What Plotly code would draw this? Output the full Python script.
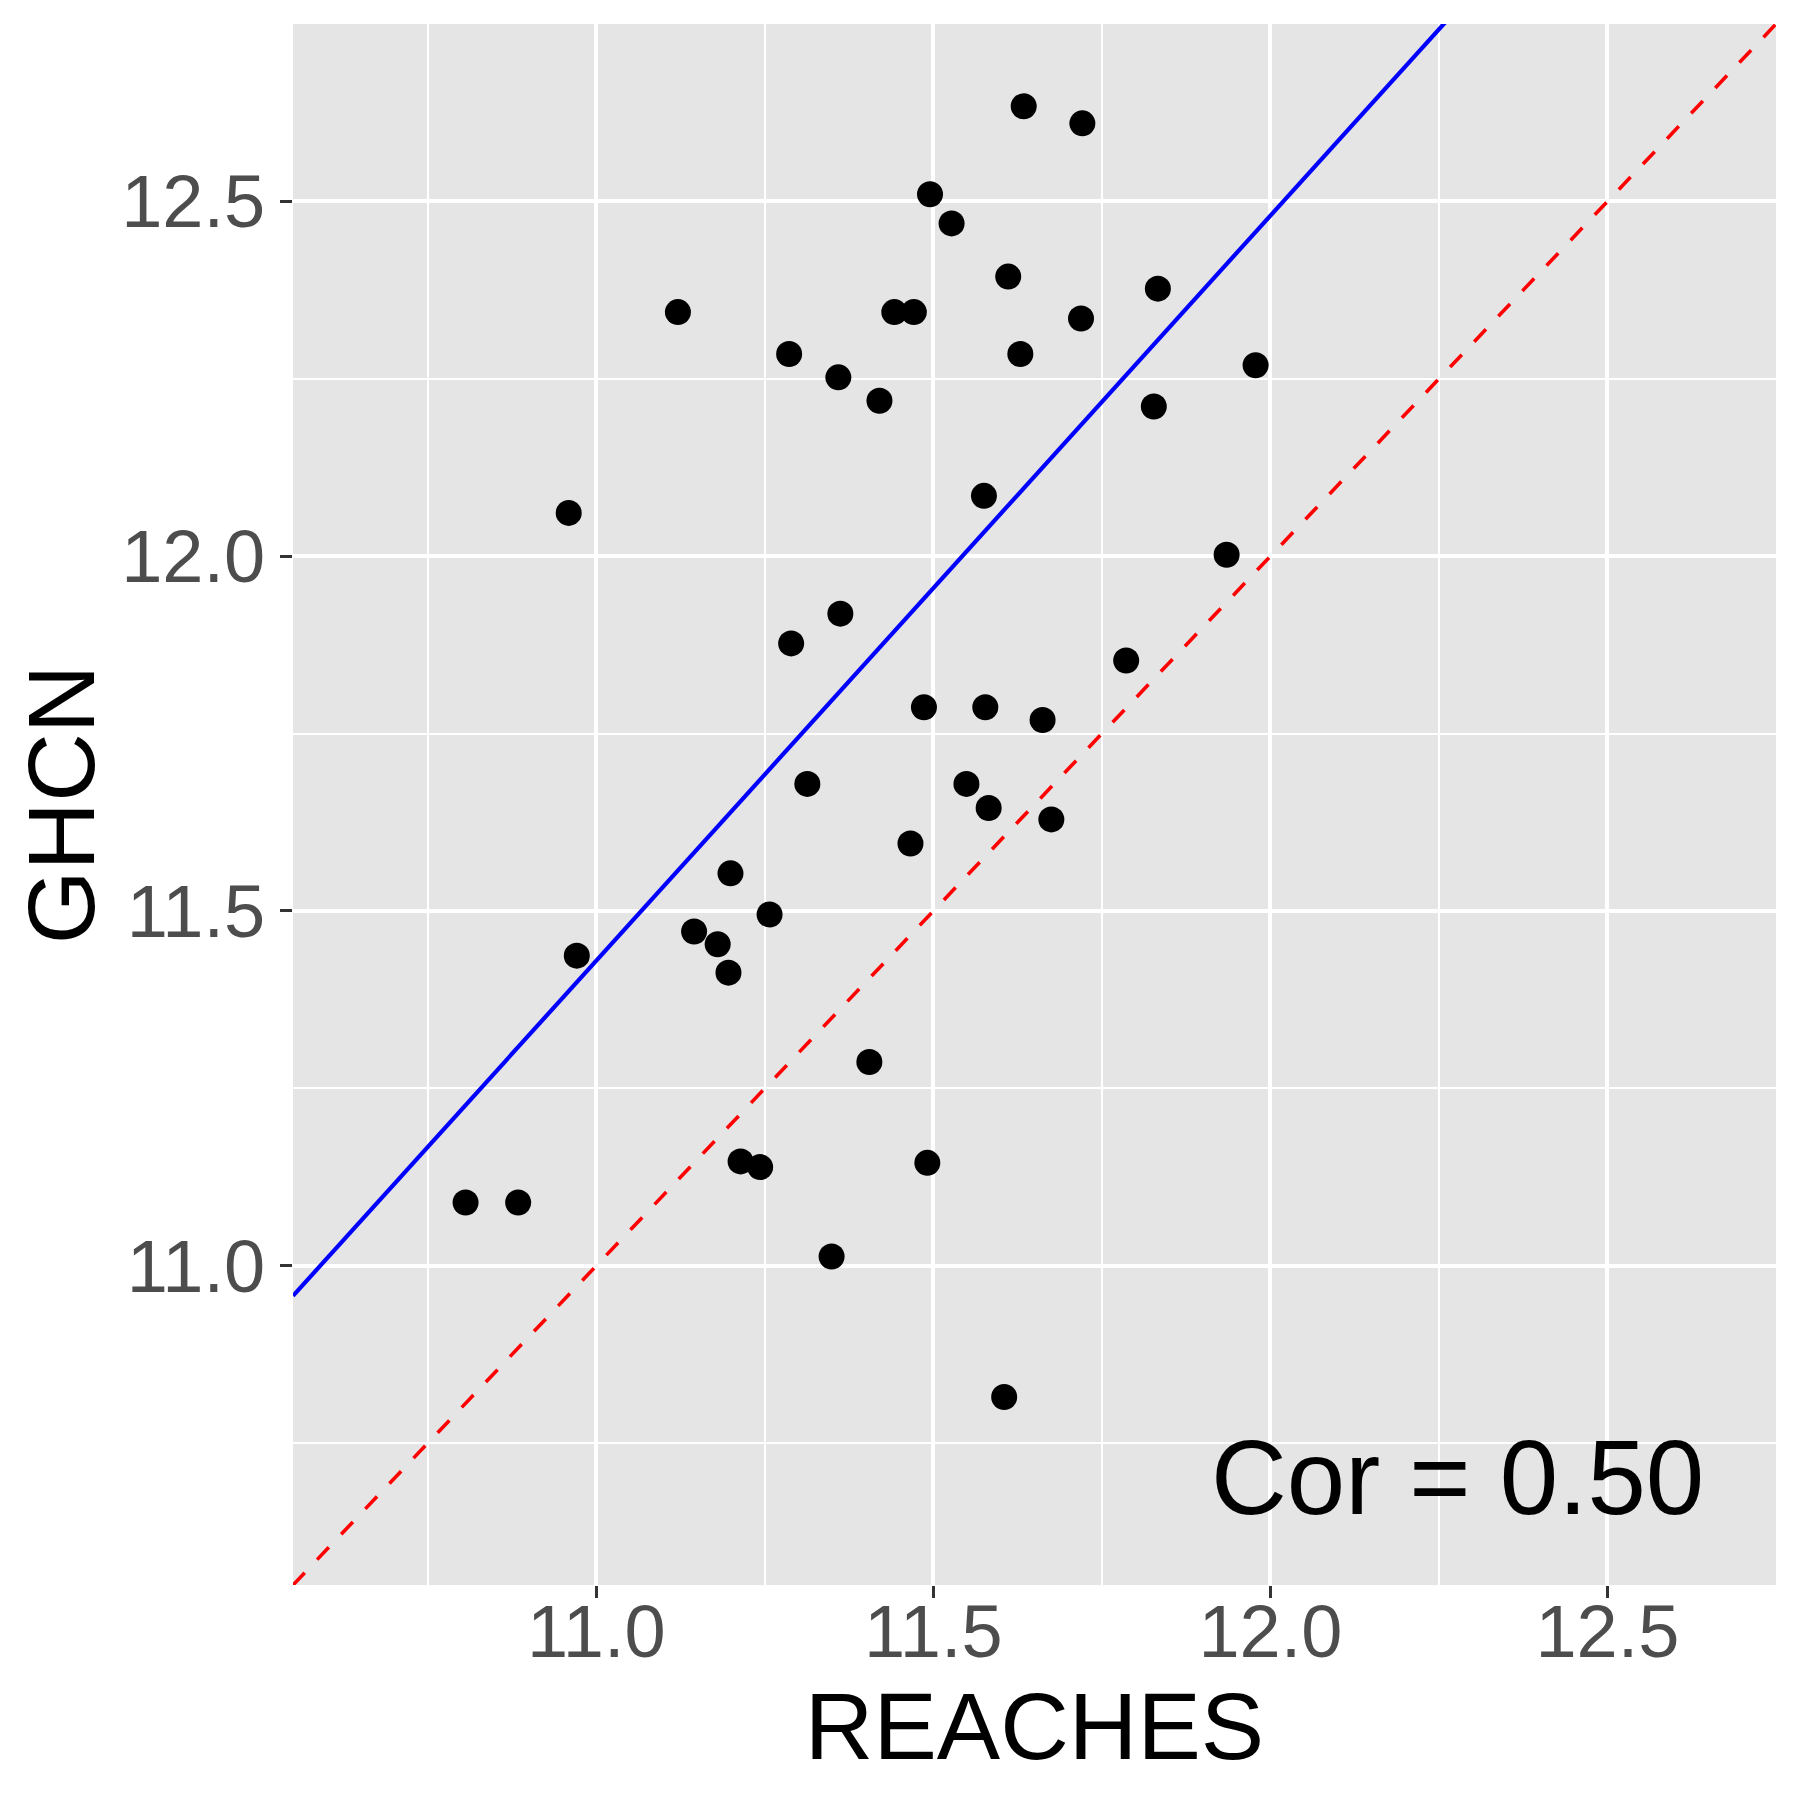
import numpy as np
import plotly.graph_objects as go

# REACHES (x) 대 GHCN (y) 값
reaches = [11.634, 11.721, 11.495, 11.527, 11.121, 11.442, 11.471, 11.611, 11.719, 11.833,
           11.286, 11.629, 11.359, 11.420, 11.978, 11.827, 10.959, 11.575, 11.935, 11.362,
           11.289, 11.786, 11.486, 11.577, 11.662, 11.313, 11.549, 11.582, 11.675, 11.466,
           11.199, 11.257, 11.145, 11.180, 11.196, 10.971, 11.405, 11.214, 11.243, 11.491,
           10.806, 10.884, 11.349, 11.605]
ghcn = [12.634, 12.610, 12.510, 12.469, 12.344, 12.344, 12.344, 12.394, 12.335, 12.377,
        12.285, 12.285, 12.252, 12.219, 12.269, 12.211, 12.061, 12.085, 12.002, 11.919,
        11.877, 11.853, 11.787, 11.787, 11.769, 11.679, 11.679, 11.645, 11.629, 11.595,
        11.553, 11.495, 11.471, 11.453, 11.413, 11.437, 11.287, 11.147, 11.139, 11.145,
        11.089, 11.089, 11.013, 10.815]

# 파란 추세선 (기울기, 절편)
fit_slope = 1.05
fit_intercept = -0.12

axis_range = [10.55, 12.75]
tick_vals = [11.0, 11.5, 12.0, 12.5]
tick_text = ['11.0', '11.5', '12.0', '12.5']
cor_label = 'Cor = 0.50'

FONT = 'Liberation Sans, Arial, sans-serif'

fig = go.Figure()

# 1:1 기준선 (빨간 점선)
line_x = np.array(axis_range)
fig.add_trace(go.Scatter(
    x=line_x, y=line_x, mode='lines',
    line=dict(color='red', width=3.6, dash='17px,18px'),
    showlegend=False
))

# 추세선
fit_x = np.linspace(axis_range[0], axis_range[1], 50)
fig.add_trace(go.Scatter(
    x=fit_x, y=fit_slope * fit_x + fit_intercept, mode='lines',
    line=dict(color='blue', width=4.2),
    showlegend=False
))

fig.add_trace(go.Scatter(
    x=reaches, y=ghcn, mode='markers',
    marker=dict(color='black', size=26),
    showlegend=False
))

fig.add_annotation(
    x=12.646, y=10.702, xref='x', yref='y',
    text=cor_label, showarrow=False,
    xanchor='right', yanchor='middle',
    font=dict(family=FONT, size=105, color='black')
)

axis_style = dict(
    range=axis_range,
    tickvals=tick_vals, ticktext=tick_text,
    ticks='outside', ticklen=12, tickwidth=2.5, tickcolor='#333333',
    tickfont=dict(family=FONT, size=74, color='#4D4D4D'),
    showgrid=True, gridcolor='white', gridwidth=3.5,
    minor=dict(dtick=0.25, tick0=0, showgrid=True, gridcolor='white', gridwidth=2),
    zeroline=False, showline=False,
)

fig.update_xaxes(**axis_style, ticklabelstandoff=-30,
                 title=dict(text='REACHES', standoff=3,
                            font=dict(family=FONT, size=95, color='black')))
fig.update_yaxes(**axis_style,
                 title=dict(text='GHCN', standoff=27,
                            font=dict(family=FONT, size=95, color='black')))

# 페이지 여백(8px)을 고려한 크기
fig.update_layout(
    width=1792, height=1792,
    margin=dict(l=285, r=24, t=16, b=215),
    plot_bgcolor='#E5E5E5', paper_bgcolor='white',
)

fig.write_html('out.html')
